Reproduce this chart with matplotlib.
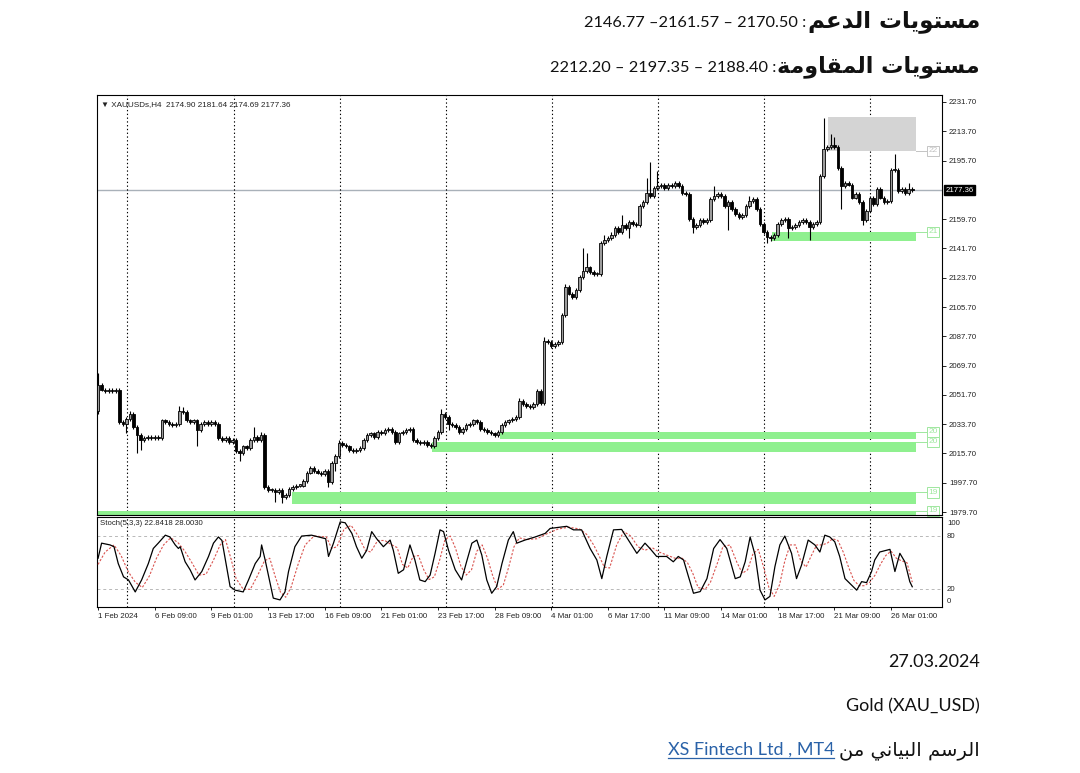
import numpy as np
import matplotlib.pyplot as plt
from matplotlib.patches import Rectangle

W, H = 1080, 773

# ---------------- data ----------------
first_open = 2042
closes = [
    2058, 2055, 2054, 2055, 2054, 2055, 2035, 2034, 2037, 2040,
    2032, 2027, 2024, 2025, 2026, 2025, 2026, 2025, 2036, 2035,
    2034, 2033, 2034, 2042, 2041, 2036, 2035, 2036, 2030, 2034,
    2035, 2034, 2035, 2034, 2025, 2024, 2025, 2023, 2024, 2017,
    2016, 2020, 2019, 2024, 2026, 2024, 2027, 1995, 1993, 1993,
    1992, 1993, 1989, 1990, 1994, 1995, 1996, 1996, 1999, 2004,
    2007, 2005, 2004, 2003, 2005, 1998, 2010, 2014, 2022, 2021,
    2020, 2018, 2017, 2018, 2019, 2024, 2027, 2028, 2026, 2029,
    2028, 2030, 2031, 2029, 2023, 2028, 2029, 2030, 2031, 2024,
    2023, 2022, 2023, 2021, 2020, 2025, 2029, 2040, 2038, 2034,
    2033, 2032, 2029, 2031, 2033, 2034, 2036, 2035, 2031, 2030,
    2029, 2028, 2027, 2029, 2033, 2035, 2036, 2037, 2038, 2048,
    2046, 2045, 2044, 2046, 2054, 2047, 2085, 2084, 2082, 2083,
    2084, 2101, 2118, 2114, 2112, 2116, 2124, 2128, 2130, 2127,
    2126, 2126, 2145, 2147, 2148, 2150, 2154, 2152, 2156, 2154,
    2158, 2157, 2156, 2168, 2170, 2176, 2174, 2179, 2180, 2181,
    2179, 2181, 2180, 2182, 2180, 2176, 2175, 2160, 2155, 2156,
    2159, 2158, 2159, 2172, 2174, 2175, 2174, 2168, 2170, 2166,
    2163, 2161, 2162, 2168, 2171, 2172, 2166, 2157, 2152, 2149,
    2148, 2150, 2157, 2159, 2160, 2154, 2155, 2156, 2158, 2159,
    2158, 2155, 2157, 2158, 2186, 2203, 2204, 2205, 2204, 2191,
    2180, 2182, 2181, 2173, 2175, 2170, 2159, 2165, 2173, 2169,
    2178, 2173, 2170, 2171, 2190, 2190, 2177, 2178, 2176, 2178,
    2177.36,
]
spike_highs = {0: 2065, 9: 2042, 23: 2045, 24: 2044, 44: 2032, 46: 2029,
               68: 2024, 97: 2043, 119: 2050, 126: 2087, 132: 2120, 137: 2142,
               138: 2139, 143: 2150, 145: 2152, 148: 2162, 155: 2185, 156: 2195,
               158: 2189, 163: 2183, 174: 2180, 184: 2174, 205: 2222, 207: 2212,
               208: 2210, 225: 2200, 229: 2182}
spike_lows = {0: 2040, 8: 2028, 11: 2016, 12: 2018, 28: 2020, 40: 2011,
              50: 1986, 52: 1985, 65: 1995, 67: 2005, 99: 2030, 150: 2148,
              168: 2151, 178: 2153, 189: 2145, 190: 2146, 195: 2148, 201: 2147,
              210: 2166, 216: 2156}

k_bars = [0, 1, 3.4, 4.5, 5.7, 7.2, 8.6, 10.5, 12.3, 14.2, 15.6, 17, 19, 20.3, 21.8, 22.7,
          23.2, 24.6, 26, 27.4, 29.3, 31.2, 32.6, 34, 35, 36.3, 37.3, 38.7, 41, 42.5, 44.4,
          45.8, 46.2, 47.2, 48.6, 49.5, 51.4, 52.8, 53.8, 55.6, 57.5, 60.3, 64.3, 65.1, 66.5,
          68.4, 69.8, 71.7, 73, 74.5, 75.9, 77.3, 78.7, 80.6, 82.5, 83.4, 84.8, 86.3, 88.1,
          89.5, 90.9, 92.4, 93.8, 95.2, 96.6, 97.6, 99, 100.9, 102.7, 104.1, 105.6, 107,
          108.4, 109.8, 111.2, 112.6, 114.1, 115.9, 117.3, 118.3, 120.6, 123.5, 126.3, 127.7,
          130.5, 132.4, 134.3, 136.6, 139, 140.9, 142.3, 143.7, 145.6, 147.9, 149.8, 152.2,
          154.5, 155.9, 157.8, 160.6, 162.5, 163.9, 165.4, 166.8, 168.2, 170.1, 172, 173.9,
          175.7, 177.6, 180, 181.4, 182.8, 184.2, 185.6, 187, 188.4, 189.8, 191.2, 192.6, 194,
          195.9, 197.3, 198.7, 200.6, 202.5, 203.9, 205.3, 206.7, 208.1, 209.5, 211, 212.8,
          214.3, 215.7, 217.1, 218.5, 219.4, 220.8, 222.7, 223.7, 225.1, 226.5, 227.9, 229.3, 230]
k_vals = [55, 72, 70, 68, 49, 34, 30.5, 17, 30.5, 49, 66, 72, 81, 79, 70, 66,
          68, 51, 42, 30.5, 40, 57, 72, 79, 75, 45.5, 23, 19, 17, 30.5, 49,
          57, 70, 53, 27, 10, 8, 17, 40, 68, 80, 81, 77, 57, 72,
          96, 95, 83, 68, 55, 64, 85, 77, 68, 75.5, 64, 38, 42, 70,
          53, 30.5, 28.6, 36, 60.5, 87, 85, 64, 42, 30.5, 51, 72, 75.5,
          58.6, 30.5, 15.5, 23, 49, 75.5, 85, 72, 75.5, 79, 83, 88.6,
          90, 91, 87, 87, 66, 53, 32, 57, 87, 87.5, 75.5, 60.5,
          72, 66, 57, 57, 51, 57, 53, 34, 15.5, 17.4, 32, 66,
          76, 66, 32, 34, 51, 79, 58.6, 19, 8, 12, 45.5, 70, 80,
          60.5, 32, 47, 75.5, 70, 62, 81, 79, 73.6, 57, 32, 25,
          19, 28.6, 27.5, 40, 53, 62, 64, 65, 40, 60.5, 51, 28.6, 22.84]

d_bars = [0, 2, 4.5, 6.5, 8.5, 10.5, 12.5, 14.5, 16.5, 18.5, 20.5, 22.5, 24.5, 26.5, 28.5,
          30.5, 32.5, 34.5, 36, 37.5, 39, 41, 43, 45, 47, 48.5, 50, 51.5, 53, 54.5, 56.5,
          58.5, 61, 64.5, 66, 67.5, 69.5, 71.5, 73.5, 75.5, 77, 79, 81, 83, 84.5, 86, 87.5,
          89, 90.5, 92, 93.5, 95, 96.5, 98, 99.5, 101, 102.5, 104, 105.5, 107, 108.5, 110,
          111.5, 113, 114.5, 116, 117.5, 119, 121, 124, 127, 130, 133, 136, 138, 140, 141.5,
          143, 144.5, 146.5, 148.5, 150.5, 152.5, 154.5, 156.5, 158.5, 161, 163, 165, 166.5,
          168, 169.5, 171.5, 173, 175, 176.5, 178.5, 180.5, 182, 183.5, 185, 186.5, 188,
          189.5, 191, 192.5, 194, 195.5, 197, 198.5, 200, 201.5, 203, 204.5, 206, 207.5, 209,
          210.5, 212, 213.5, 215, 216.5, 218, 219.5, 221, 222.5, 224, 225.5, 227, 228.5, 230]
d_vals = [48, 62, 70, 58, 40, 28, 22, 35, 55, 70, 78, 73, 63, 50, 36,
          37, 52, 70, 76, 55, 32, 20, 20, 35, 52, 55, 35, 17, 11, 22, 48,
          70, 80, 79, 66, 68, 88, 92, 80, 64, 62, 75, 75, 70, 67, 48, 44,
          57, 58, 42, 31, 34, 53, 76, 80, 66, 46, 36, 42, 63, 70, 55,
          35, 20, 25, 45, 68, 78, 76, 77, 83, 88, 90, 88, 82, 70, 58,
          45, 44, 70, 85, 80, 68, 64, 67, 62, 58, 55, 55, 50,
          38, 22, 20, 28, 50, 68, 70, 50, 38, 42, 60, 65, 45,
          22, 12, 25, 52, 70, 70, 52, 45, 58, 70, 70, 72, 77, 75,
          62, 45, 30, 24, 24, 28, 36, 48, 58, 63, 55, 52, 50, 28.0]

# zones: start bar, end bar, low, high, tag price, kind
zone_start = [206.2, 190.3, 113.6, 94.3, 54.7, -1]
zone_end = [231, 231, 231, 231, 231, 231]
zone_low = [2201.6, 2146.3, 2024.4, 2016.4, 1984.4, 1975.0]
zone_high = [2222.3, 2152.0, 2029.1, 2022.9, 1991.8, 1980.4]
zone_tag = [2201.6, 2152.0, 2029.1, 2022.9, 1991.8, 1980.4]
zone_kind = ["res", "sup", "sup", "sup", "sup", "sup"]

price_ticks = [2231.7, 2213.7, 2195.7, 2159.7, 2141.7, 2123.7, 2105.7, 2087.7,
               2069.7, 2051.7, 2033.7, 2015.7, 1997.7, 1979.7]
last_price = 2177.36
grid_bars = [8.2, 38.3, 68.4, 98.3, 128.2, 158.2, 188.1, 218.1]
date_bars = [0, 16, 32, 48, 64, 80, 96, 112, 128, 144, 160, 176, 192, 208, 224]
date_labels = ["1 Feb 2024", "6 Feb 09:00", "9 Feb 01:00", "13 Feb 17:00", "16 Feb 09:00",
               "21 Feb 01:00", "23 Feb 17:00", "28 Feb 09:00", "4 Mar 01:00", "6 Mar 17:00",
               "11 Mar 09:00", "14 Mar 01:00", "18 Mar 17:00", "21 Mar 09:00", "26 Mar 01:00"]

# ---------------- arabic shaping (matplotlib has no bidi/shaping) ----------------
AR_FORMS = {  # isolated, final, initial, medial
    "ا": ("\uFE8D", "\uFE8E", None, None),
    "ب": ("\uFE8F", "\uFE90", "\uFE91", "\uFE92"),
    "ت": ("\uFE95", "\uFE96", "\uFE97", "\uFE98"),
    "ة": ("\uFE93", "\uFE94", None, None),
    "د": ("\uFEA9", "\uFEAA", None, None),
    "ر": ("\uFEAD", "\uFEAE", None, None),
    "س": ("\uFEB1", "\uFEB2", "\uFEB3", "\uFEB4"),
    "ع": ("\uFEC9", "\uFECA", "\uFECB", "\uFECC"),
    "ق": ("\uFED5", "\uFED6", "\uFED7", "\uFED8"),
    "ل": ("\uFEDD", "\uFEDE", "\uFEDF", "\uFEE0"),
    "م": ("\uFEE1", "\uFEE2", "\uFEE3", "\uFEE4"),
    "ن": ("\uFEE5", "\uFEE6", "\uFEE7", "\uFEE8"),
    "و": ("\uFEED", "\uFEEE", None, None),
    "ي": ("\uFEF1", "\uFEF2", "\uFEF3", "\uFEF4"),
}


def shape(text):
    out = []
    for k, ch in enumerate(text):
        if ch not in AR_FORMS:
            out.append(ch)
            continue
        prev = text[k - 1] if k > 0 else ""
        nxt = text[k + 1] if k + 1 < len(text) else ""
        iso, fin, ini, med = AR_FORMS[ch]
        join_prev = prev in AR_FORMS and AR_FORMS[prev][2] is not None
        join_next = nxt in AR_FORMS and ini is not None
        if join_prev and join_next:
            out.append(med)
        elif join_prev:
            out.append(fin)
        elif join_next:
            out.append(ini)
        else:
            out.append(iso)
    return "".join(reversed(out))


# ---------------- figure ----------------
fig = plt.figure(figsize=(W / 100, H / 100), dpi=100)
fig.patch.set_facecolor("white")
chart_font = "Liberation Sans"

ax = fig.add_axes([97 / W, 1 - 515 / H, 845 / W, 420 / H])
ax_st = fig.add_axes([97 / W, 1 - 607 / H, 845 / W, 90 / H], sharex=ax)

n = len(closes)
opens = [first_open] + closes[:-1]

for i in range(n):
    o, c = opens[i], closes[i]
    hi = max(o, c, spike_highs.get(i, max(o, c) + 1.2))
    lo = min(o, c, spike_lows.get(i, min(o, c) - 1.2))
    ax.vlines(i, lo, hi, color="black", lw=0.8, zorder=3)
    up = c >= o
    ax.bar(i, max(abs(c - o), 0.8), bottom=min(o, c), width=0.72,
           color="#9c9c9c" if up else "black", edgecolor="black", lw=0.6, zorder=4)

# zones with their price tags at the right edge
for s, e, lo, hi, tag, kind in zip(zone_start, zone_end, zone_low, zone_high, zone_tag, zone_kind):
    fc = "#d4d4d4" if kind == "res" else "#8ff08f"
    tc = "#c4c4c4" if kind == "res" else "#9fe79f"
    ax.add_patch(Rectangle((s, lo), e - s, hi - lo, facecolor=fc, edgecolor="none", zorder=2))
    ax.plot([e, 234.3], [tag, tag], color=tc, lw=0.7, zorder=2)
    ax.text(234.5, tag, f"{tag:.0f}"[:2], fontsize=6, color=tc, va="center", ha="left",
            family=chart_font, zorder=2,
            bbox=dict(boxstyle="square,pad=0.2", fc="white", ec=tc, lw=0.7))

ax.axhline(last_price, color="#a9b1b9", lw=1.0, zorder=1)
for b in grid_bars:
    for a in (ax, ax_st):
        a.axvline(b, color="black", lw=0.8, ls=(0, (1.2, 2.2)), zorder=1)

ax.set_xlim(-0.3, 238.4)
ax.set_ylim(1977.9, 2236.0)
ax.yaxis.tick_right()
ax.set_yticks(price_ticks)
ax.set_yticklabels([f"{p:.2f}" for p in price_ticks], fontsize=5.6, family=chart_font, color="#222")
ax.tick_params(axis="y", length=3, width=0.6, pad=2)
ax.tick_params(axis="x", bottom=False, labelbottom=False)
ax.text(1.004, last_price, f"{last_price:.2f}", transform=ax.get_yaxis_transform(),
        fontsize=5.6, family=chart_font, color="white", va="center", ha="left",
        bbox=dict(boxstyle="square,pad=0.2", fc="black", ec="black"))
ax.text(0.005, 0.985, "\u25BC XAUUSDs,H4  2174.90 2181.64 2174.69 2177.36", transform=ax.transAxes,
        fontsize=5.9, family=[chart_font, "DejaVu Sans"], color="#222", va="top", ha="left")

# stochastic
ax_st.axhline(80, color="#b8b8b8", lw=0.7, ls=(0, (3, 3)))
ax_st.axhline(20, color="#b8b8b8", lw=0.7, ls=(0, (3, 3)))
ax_st.plot(d_bars, d_vals, color="#d9534f", lw=0.8, ls=(0, (2, 1.5)), zorder=3)
ax_st.plot(k_bars, k_vals, color="black", lw=0.9, zorder=4)
ax_st.set_ylim(0, 101.5)
ax_st.set_yticks([])
for v, pos in [("100", 94.0), ("80", 80), ("20", 20), ("0", 5.7)]:
    ax_st.text(1.006, pos, v, transform=ax_st.get_yaxis_transform(), fontsize=5.6,
               family=chart_font, color="#222", va="center", ha="left")
ax_st.text(0.004, 0.97, "Stoch(5,3,3) 22.8418 28.0030", transform=ax_st.transAxes,
           fontsize=5.6, family=chart_font, color="#222", va="top", ha="left")
ax_st.set_xticks(date_bars)
ax_st.set_xticklabels(date_labels, fontsize=5.7, family=chart_font, color="#222", ha="left")
ax_st.tick_params(axis="x", length=2, width=0.6, pad=2)

for a in (ax, ax_st):
    for sp in a.spines.values():
        sp.set_color("black")
        sp.set_linewidth(0.8)
    a.set_facecolor("white")

# ---------------- document text ----------------
r = fig.canvas.get_renderer()
num_font = ["Lato", "DejaVu Sans"]


def rtl_line(y, arabic, rest, ar_size, ar_weight, rest_size, gap, rest_color="#111", underline=False):
    t = fig.text(980 / W, 1 - y / H, shape(arabic), ha="right", va="baseline",
                 fontsize=ar_size, fontweight=ar_weight, family="DejaVu Sans", color="#111")
    bb = t.get_window_extent(renderer=r)
    t2 = fig.text((bb.x0 - gap) / W, 1 - y / H, rest, ha="right", va="baseline",
                  fontsize=rest_size, family=num_font, color=rest_color)
    if underline:
        b2 = t2.get_window_extent(renderer=r)
        fig.add_artist(plt.Line2D([b2.x0 / W, b2.x1 / W], [(H - y - 3) / H] * 2,
                                  color=rest_color, lw=0.9))


rtl_line(27, "مستويات الدعم", "2146.77 \u20132161.57 \u2013 2170.50 :", 16.5, "bold", 11.8, 1)
rtl_line(72, "مستويات المقاومة", "2212.20 \u2013 2197.35 \u2013 2188.40 :", 16, "bold", 11.8, 1)
fig.text(980 / W, 1 - 667 / H, "27.03.2024", ha="right", va="baseline", fontsize=13,
         family=num_font, color="#111")
fig.text(980 / W, 1 - 711 / H, "Gold (XAU_USD)", ha="right", va="baseline", fontsize=13,
         family=num_font, color="#111")
rtl_line(755, "الرسم البياني من", "XS Fintech Ltd , MT4", 14, "normal", 13, 5,
         rest_color="#2a62a8", underline=True)

fig.savefig("out.png", dpi=100, facecolor="white")
